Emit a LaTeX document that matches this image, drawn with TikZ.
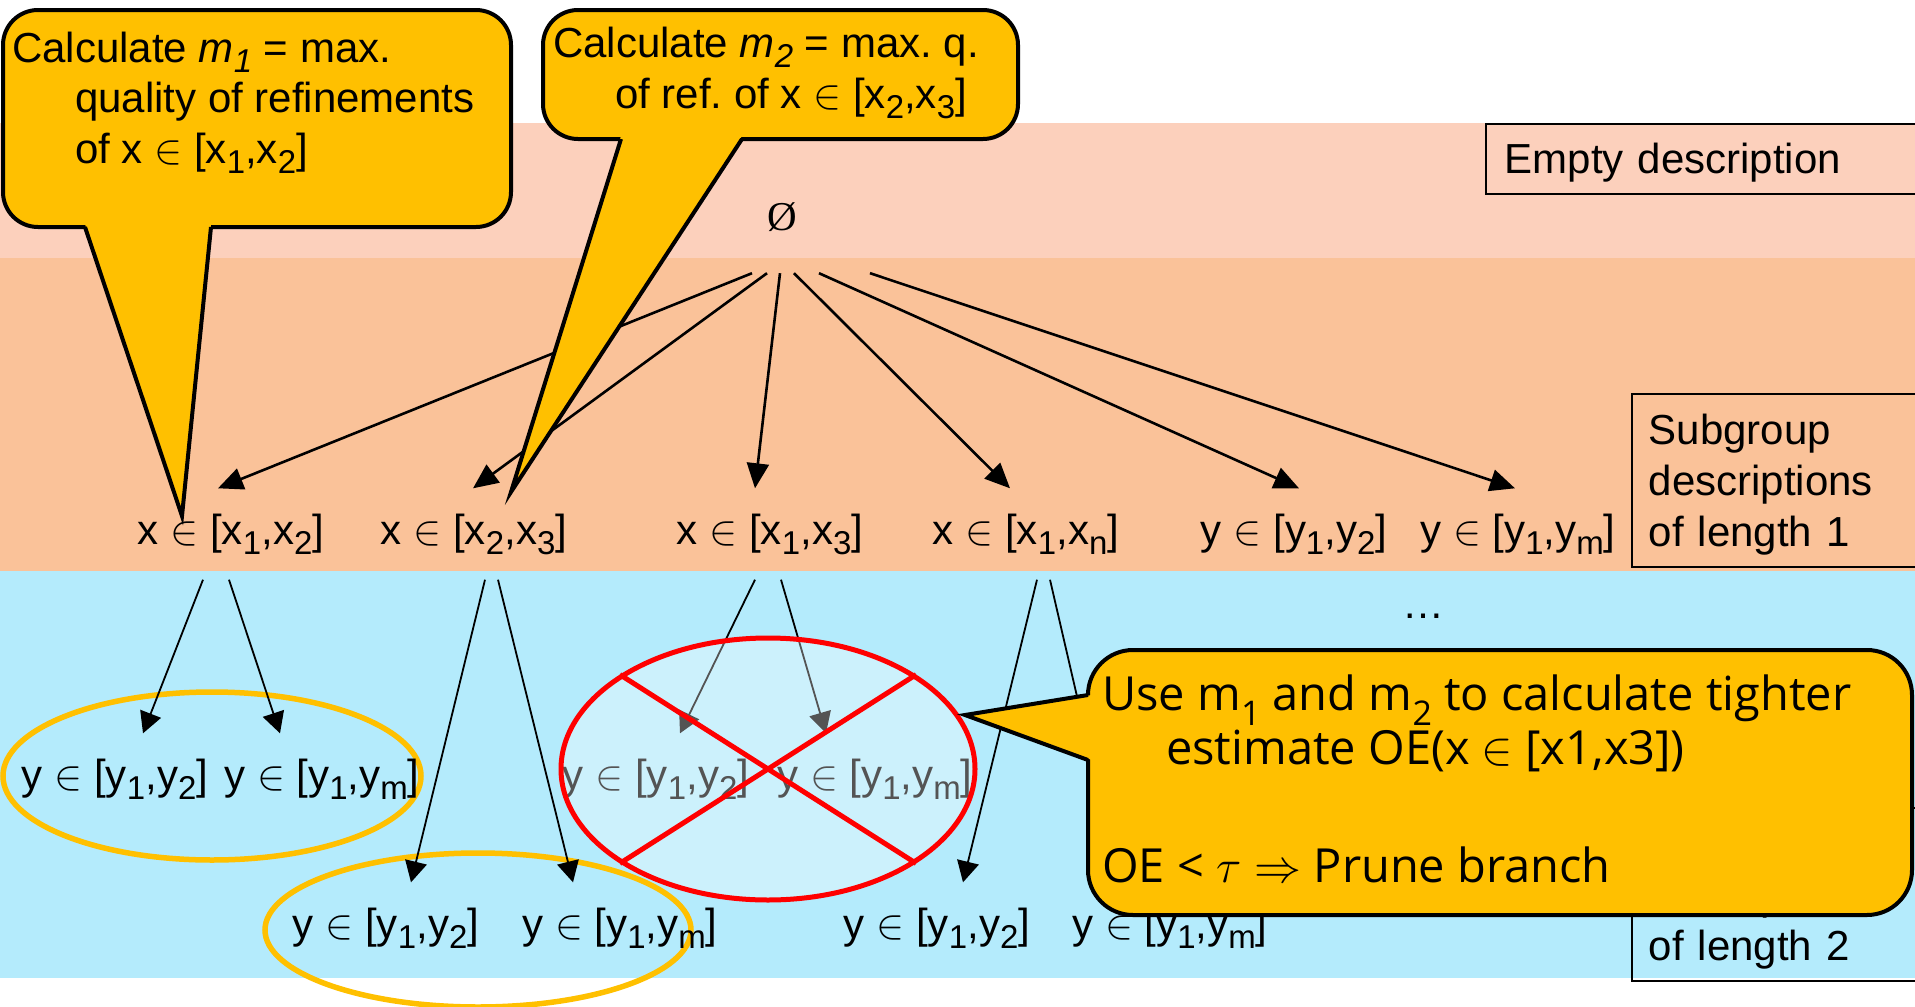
\RequirePackage{fix-cm}
\documentclass[tikz,border=0pt]{standalone}
\usepackage{fontspec}
\setmainfont{Liberation Sans}
\newfontfamily\notefont{Open Sans}
\newfontfamily\rootfont{Liberation Serif}
\usepackage{tikz}
\usetikzlibrary{arrows.meta, shapes.geometric, positioning}
\definecolor{emptyband}{RGB}{252,208,188}
\definecolor{lenoneband}{RGB}{250,194,153}
\definecolor{lentwoband}{RGB}{180,235,252}
\definecolor{notegold}{RGB}{255,192,0}
\definecolor{prunered}{RGB}{255,0,0}
\newcommand{\lo}[1]{\raisebox{-10pt}{\fontsize{33}{33}\selectfont #1}}
\newcommand{\nlo}[1]{\raisebox{-15pt}{\fontsize{34}{34}\selectfont #1}}
\newcommand{\bigtext}{\fontsize{42}{51}\selectfont}
\frenchspacing

\begin{document}
\begin{tikzpicture}[x=1pt, y=-1pt,
    every node/.style={font=\bigtext},
    desc/.style={text height=31pt, text depth=10pt, inner xsep=0pt, inner ysep=25pt},
    lenbox/.style={draw, line width=1.8pt, anchor=north west, align=left, text width=300pt, inner xsep=17pt},
    arr/.style={line width=2.6pt, -{Triangle[length=25pt, width=22pt]}},
    subarr/.style={line width=1.8pt, -{Triangle[length=21pt, width=22pt]}},
    note/.style={fill=notegold, draw=black, line width=4pt, rounded corners=35pt},
    notetext/.style={anchor=base west, inner sep=0pt},
    keep/.style={draw=notegold, line width=5.5pt},
  ]
  \useasboundingbox (0,0) rectangle (1915,1007);
  \clip (0,0) rectangle (1915,1007);

  % bands, one per description length
  \fill[emptyband] (0,123) rectangle (1915,258);
  \fill[lenoneband] (0,258) rectangle (1915,571);
  \fill[lentwoband] (0,571) rectangle (1915,978);

  % band labels
  \node[lenbox, text width=420pt, inner xsep=19pt, minimum height=70pt, text height=39pt, text depth=9pt] (lab0) at (1485,123) {Empty description};
  \node[lenbox, minimum height=173pt, text height=39pt] (lab1) at (1631,393) {Subgroup\\descriptions\\of length 1};
  \node[lenbox, minimum height=173pt, text height=39pt, anchor=south west] (lab2) at (1631,982) {Subgroup\\descriptions\\of length 2};

  % kept refinements
  \draw[keep] (212,776) ellipse [x radius=209, y radius=84];
  \draw[keep] (478,930) ellipse [x radius=213, y radius=77];

  % empty description
  \node[font=\rootfont\fontsize{41}{41}\selectfont, minimum height=112pt] (root) at (782,217) {Ø};

  % length 1
  \node[desc] (x12) at (231,534) {x $\in$ [x\lo{1},x\lo{2}]};
  \node[desc] (x23) at (474,534) {x $\in$ [x\lo{2},x\lo{3}]};
  \node[desc] (x13) at (770,534) {x $\in$ [x\lo{1},x\lo{3}]};
  \node[desc] (x1n) at (1026,534) {x $\in$ [x\lo{1},x\lo{n}]};
  \node[desc] (y12) at (1294,534) {y $\in$ [y\lo{1},y\lo{2}]};
  \node[desc] (y1m) at (1518,534) {y $\in$ [y\lo{1},y\lo{m}]};

  % length 2
  \node[desc] (x12y12) at (115,779) {y $\in$ [y\lo{1},y\lo{2}]};
  \node[desc] (x12y1m) at (322,779) {y $\in$ [y\lo{1},y\lo{m}]};
  \node[desc] (x13y12) at (656,779) {y $\in$ [y\lo{1},y\lo{2}]};
  \node[desc] (x13y1m) at (875,779) {y $\in$ [y\lo{1},y\lo{m}]};
  \node[desc] (x23y12) at (386,928) {y $\in$ [y\lo{1},y\lo{2}]};
  \node[desc] (x23y1m) at (620,928) {y $\in$ [y\lo{1},y\lo{m}]};
  \node[desc] (x1ny12) at (937,928) {y $\in$ [y\lo{1},y\lo{2}]};
  \node[desc] (x1ny1m) at (1170,928) {y $\in$ [y\lo{1},y\lo{m}]};
  \node[anchor=base] (more) at (1423,618) {…};

  % refinements
  \foreach \s/\t/\e in {-30/x12/-13, -15/x23/-1, -2/x13/-15, 12/x1n/-16, 37/y12/5, 88/y1m/-3}
    \draw[arr] ([xshift=\s]root.south) -- ([xshift=\e]\t.north);
  \foreach \p/\s/\e in {x12/-28/28, x23/11/25, x13/-15/24, x1n/11/26}
    \draw[subarr] ([xshift=\s]\p.south) -- ([xshift=\e]\p y12.north);
  \foreach \p/\s/\e in {x12/-2/-42, x23/24/-47, x13/11/-49, x1n/24/-50}
    \draw[subarr] ([xshift=\s]\p.south) -- ([xshift=\e]\p y1m.north);

  % pruned branch
  \node[ellipse, draw=prunered, line width=5pt, fill=white, fill opacity=0.33, minimum width=414pt, minimum height=262pt, inner sep=0pt] (pruned) at (768,769) {};
  \draw[prunered, line width=5pt] (pruned.north west) -- (pruned.south east) (pruned.north east) -- (pruned.south west);

  % callout m1
  \draw[note] (3,10) rectangle (511,227);
  \fill[notegold] (85,224) -- (182,516) -- (211,224) -- cycle;
  \draw[line width=4pt] (85,227) -- (182,516) -- (211,227);
  \node[notetext] (m1l1) at (12,62) {Calculate \textit{m}\lo{\textit{1}} = max.};
  \node[notetext] (m1l2) at (75,112) {quality of refinements};
  \node[notetext] (m1l3) at (75,163) {of x $\in$ [x\lo{1},x\lo{2}]};

  % callout m2
  \draw[note] (543,10) rectangle (1018,139);
  \fill[notegold] (621,136) -- (511,492) -- (742,136) -- cycle;
  \draw[line width=4pt] (621,139) -- (511,492) -- (742,139);
  \node[notetext] (m2l1) at (553,57) {Calculate \textit{m}\lo{\textit{2}} = max. q.};
  \node[notetext] (m2l2) at (615,108) {of ref. of x $\in$ [x\lo{2},x\lo{3}]};

  % callout optimistic estimate
  \draw[note, rounded corners=45pt] (1088,650) rectangle (1912,915);
  \fill[notegold] (1092,695) -- (965,715) -- (1092,760) -- cycle;
  \draw[line width=4pt] (1088,695) -- (965,715) -- (1088,760);
  \begin{scope}[every node/.style={font=\notefont\fontsize{47}{57}\selectfont}]
    \node[notetext] (oel1) at (1102,710) {Use m\nlo{1} and m\nlo{2} to calculate tighter};
    \node[notetext] (oel2) at (1166,764) {estimate OE(x $\in$ [x1,x3])};
    \node[notetext] (oel3) at (1102,882) {OE < $\tau\Rightarrow$ Prune branch};
  \end{scope}
\end{tikzpicture}
\end{document}
